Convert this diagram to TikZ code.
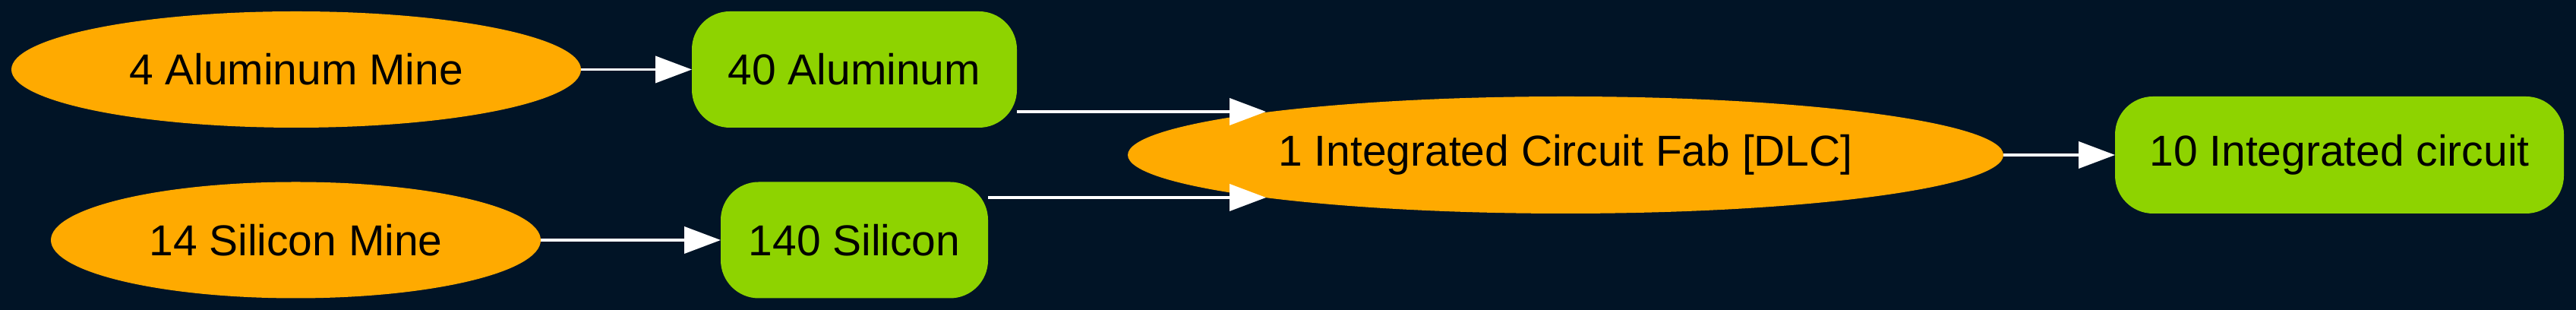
\documentclass[tikz,border=0pt]{standalone}
\usepackage{fontspec}
\setmainfont{Liberation Sans}
\usetikzlibrary{arrows.meta}
\usetikzlibrary{shapes.geometric}
\usetikzlibrary{calc}
\usepackage{xcolor}
\definecolor{navy}{HTML}{011426}
\definecolor{amber}{HTML}{FFAA00}
\definecolor{lime}{HTML}{8ED300}

\begin{document}
\begin{tikzpicture}[
  font=\fontsize{16.2pt}{19pt}\selectfont,
  mine/.style={ellipse, fill=amber, inner sep=0pt, outer sep=0pt, minimum height=1.53cm},
  item/.style={rectangle, rounded corners=0.5cm, fill=lime, inner sep=0pt, outer sep=0pt, minimum height=1.53cm},
  flow/.style={draw=white, line width=0.038cm, -{Triangle[length=0.48cm,width=0.35cm]}}
]
  \useasboundingbox[fill=navy] (0,0) rectangle (33.92,4.08);
  \node[mine, minimum width=7.5cm] (alMine) at (3.9,3.165) {4 Aluminum Mine};
  \node[mine, minimum width=6.45cm] (siMine) at (3.895,0.92) {14 Silicon Mine};
  \node[item, minimum width=4.28cm] (al) at (11.25,3.165) {40 Aluminum};
  \node[item, minimum width=3.52cm] (si) at (11.25,0.92) {140 Silicon};
  \node[mine, minimum width=11.53cm, minimum height=1.54cm] (fab) at (20.615,2.04) {1 Integrated Circuit Fab [DLC]};
  \node[item, minimum width=5.91cm, minimum height=1.54cm] (ic) at (30.805,2.04) {10 Integrated circuit};
  \coordinate (fabIn1) at ($(fab.center)+(-3.945,0.57)$);
  \coordinate (fabIn2) at ($(fab.center)+(-3.945,-0.56)$);
  \draw[flow] (alMine) -- (al);
  \draw[flow] (siMine) -- (si);
  \draw[flow] (al.east |- fabIn1) -- (fabIn1);
  \draw[flow] (si.east |- fabIn2) -- (fabIn2);
  \draw[flow] (fab) -- (ic);
\end{tikzpicture}
\end{document}
